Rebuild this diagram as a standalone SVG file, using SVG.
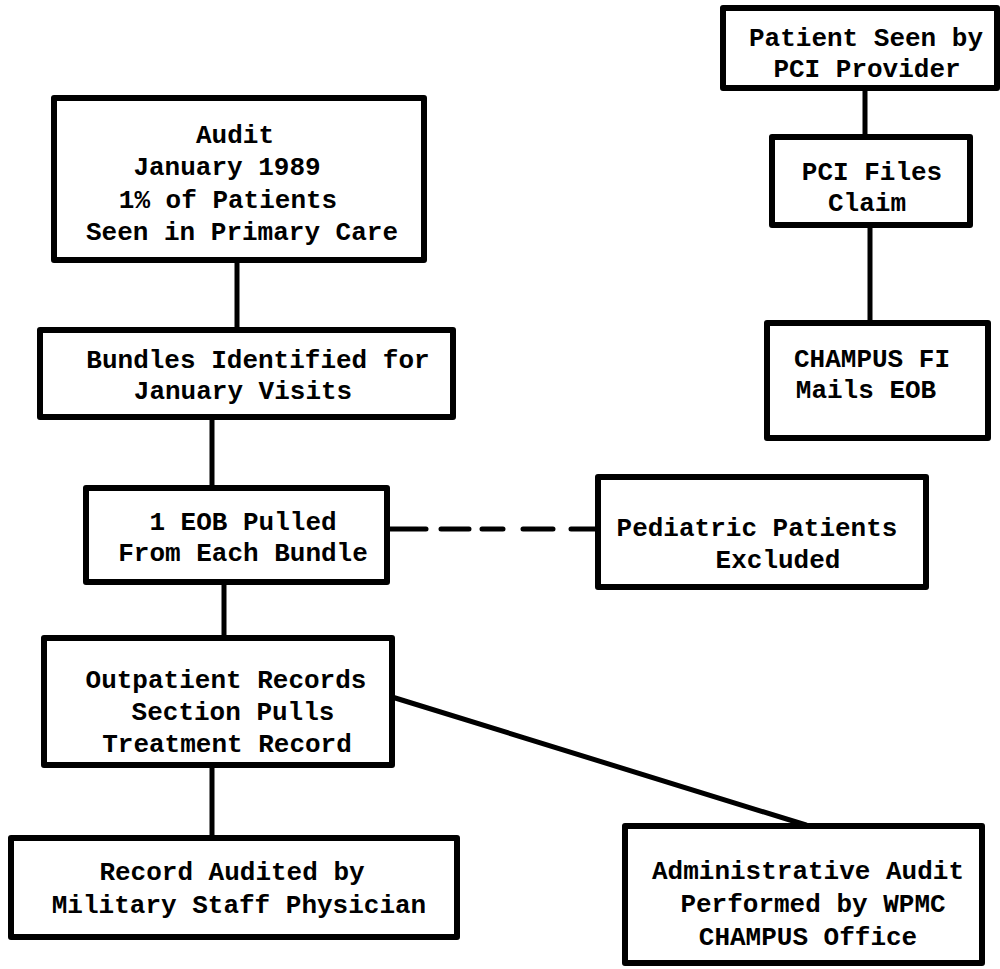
<svg xmlns="http://www.w3.org/2000/svg" width="1000" height="969" viewBox="0 0 1000 969">
<style>
.box{fill:#fff;stroke:#000;stroke-width:6;stroke-linejoin:round}
.ln{stroke:#000;stroke-width:5;fill:none;stroke-linecap:round}
.dash{stroke:#000;stroke-width:5;fill:none;stroke-linecap:round}
text{font-family:"Liberation Mono","DejaVu Sans Mono",monospace;font-size:26px;font-weight:bold;text-anchor:middle;fill:#000}
</style>
<rect width="1000" height="969" fill="#fff"/>
<g id="connectors">
<line class="ln" x1="237" y1="260" x2="237" y2="330"/>
<line class="ln" x1="212" y1="417" x2="212" y2="488"/>
<line class="ln" x1="224" y1="582" x2="224" y2="638"/>
<line class="ln" x1="212" y1="765" x2="212" y2="838"/>
<line class="ln" x1="392" y1="697" x2="806" y2="825"/>
<line class="ln" x1="387" y1="529" x2="426" y2="529"/>
<path class="dash" d="M441 529H469M482 529H503M523 529H553M571 529H598"/>
<line class="ln" x1="865" y1="88" x2="865" y2="137"/>
<line class="ln" x1="870" y1="225" x2="870" y2="323"/>
</g>
<g id="audit">
<rect class="box" x="54" y="98" width="370" height="162"/>
<text x="235" y="143">Audit</text>
<text x="227" y="175">January 1989</text>
<text x="228" y="208">1% of Patients</text>
<text x="242" y="240">Seen in Primary Care</text>
</g>
<g id="bundles">
<rect class="box" x="40" y="330" width="413" height="87"/>
<text x="258" y="368">Bundles Identified for</text>
<text x="243" y="399">January Visits</text>
</g>
<g id="eob">
<rect class="box" x="86" y="488" width="301" height="94"/>
<text x="243" y="530">1 EOB Pulled</text>
<text x="243" y="561">From Each Bundle</text>
</g>
<g id="pediatric">
<rect class="box" x="598" y="477" width="328" height="110"/>
<text x="757" y="536">Pediatric Patients</text>
<text x="778" y="568">Excluded</text>
</g>
<g id="outpatient">
<rect class="box" x="44" y="638" width="348" height="127"/>
<text x="226" y="688">Outpatient Records</text>
<text x="233" y="720">Section Pulls</text>
<text x="227" y="752">Treatment Record</text>
</g>
<g id="record">
<rect class="box" x="11" y="838" width="446" height="99"/>
<text x="232" y="880">Record Audited by</text>
<text x="239" y="913">Military Staff Physician</text>
</g>
<g id="admin">
<rect class="box" x="625" y="826" width="357" height="137"/>
<text x="808" y="879">Administrative Audit</text>
<text x="813" y="912">Performed by WPMC</text>
<text x="808" y="945">CHAMPUS Office</text>
</g>
<g id="patient">
<rect class="box" x="723" y="8" width="274" height="80"/>
<text x="866" y="46">Patient Seen by</text>
<text x="867" y="77">PCI Provider</text>
</g>
<g id="pcifiles">
<rect class="box" x="772" y="137" width="198" height="88"/>
<text x="872" y="180">PCI Files</text>
<text x="867" y="211">Claim</text>
</g>
<g id="champus">
<rect class="box" x="767" y="323" width="221" height="115"/>
<text x="872" y="367">CHAMPUS FI</text>
<text x="866" y="398">Mails EOB</text>
</g>
</svg>
